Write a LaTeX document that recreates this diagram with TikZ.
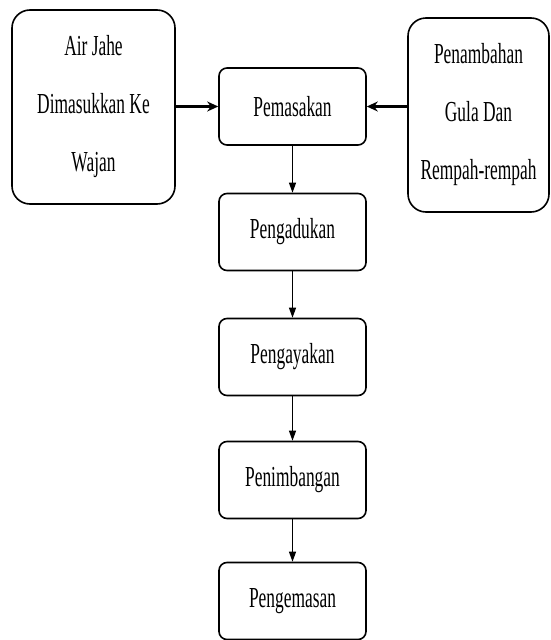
\documentclass[tikz,border=0pt]{standalone}
\usepackage{fontspec}
\setmainfont{Liberation Serif}[FakeStretch=0.6]
\usetikzlibrary{arrows.meta}
\begin{document}
\begin{tikzpicture}[x=1pt,y=-1pt,
  sidebox/.style={draw,line width=1.6pt,rounded corners=18pt,inner sep=0pt,align=center,
    font=\fontsize{29}{58}\selectfont},
  stepbox/.style={draw,line width=1.6pt,rounded corners=8pt,minimum width=147pt,minimum height=77pt,
    inner sep=0pt,font=\fontsize{29}{34}\selectfont},
  hlink/.style={line width=2.2pt,-{Stealth[length=11pt,width=10pt]}},
  vlink/.style={line width=1pt,-{Stealth[length=10pt,width=7pt,inset=0pt]}}]
\useasboundingbox (0,0) rectangle (550,640);
\node[sidebox,minimum width=163pt,minimum height=194pt] (air) at (93.5,107) {Air Jahe\\Dimasukkan Ke\\Wajan};
\node[sidebox,minimum width=141pt,minimum height=194pt] (gula) at (478.5,115) {Penambahan\\Gula Dan\\Rempah-rempah};
\node[stepbox] (pem) at (292.5,106.5) {Pemasakan};
\node[stepbox] (ada) at (292.5,232) {Pengadukan};
\node[stepbox] (aya) at (292.5,357) {Pengayakan};
\node[stepbox] (tim) at (292.5,480) {Penimbangan};
\node[stepbox] (kem) at (292.5,601) {Pengemasan};
\draw[hlink] (air.east |- pem.west) -- (pem.west);
\draw[hlink] (gula.west |- pem.east) -- (pem.east);
\draw[vlink] (pem) -- (ada);
\draw[vlink] (ada) -- (aya);
\draw[vlink] (aya) -- (tim);
\draw[vlink] (tim) -- (kem);
\end{tikzpicture}
\end{document}
